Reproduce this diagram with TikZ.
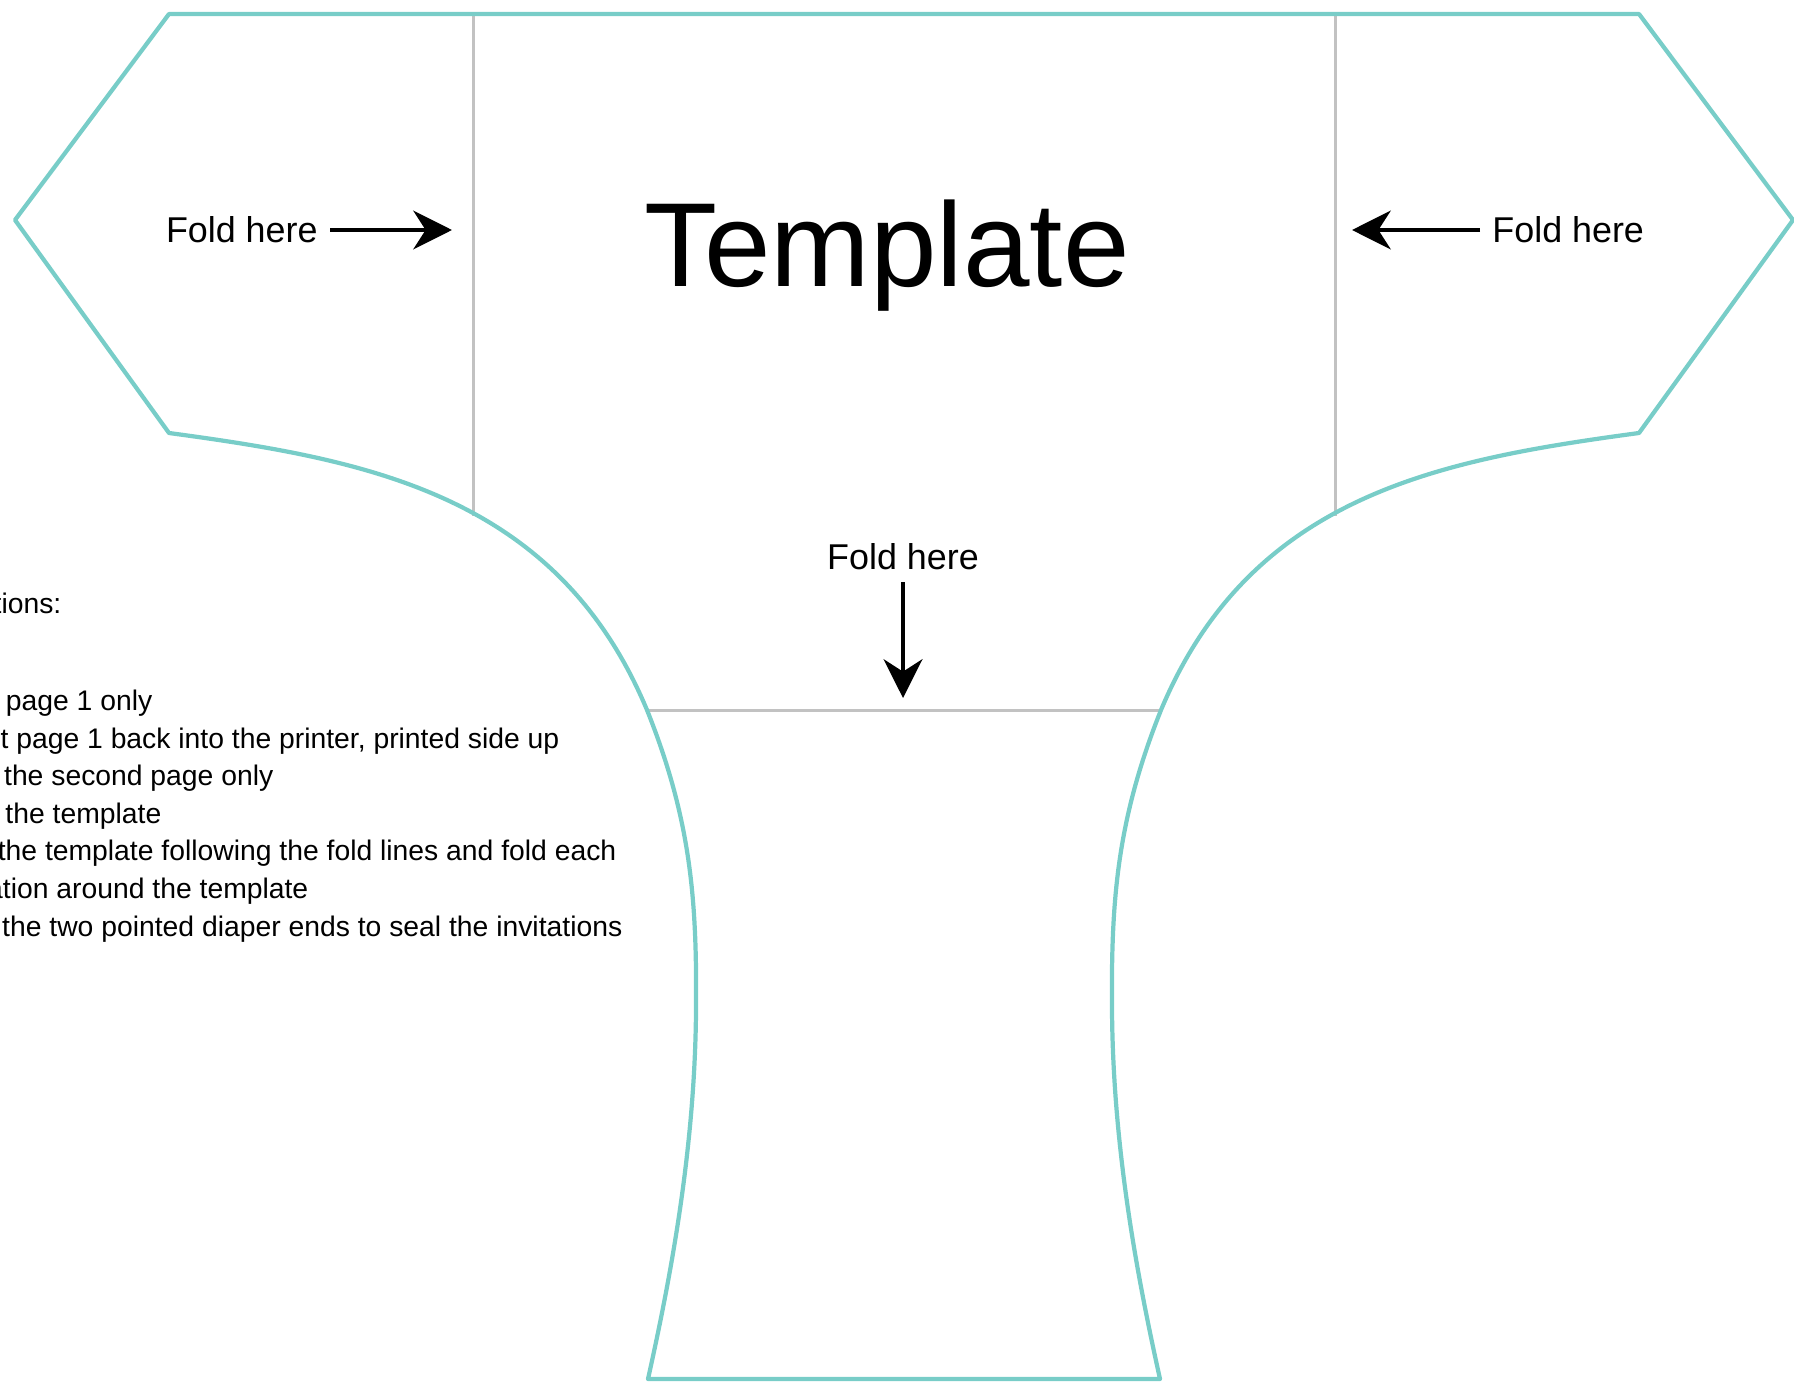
\documentclass[tikz,border=0pt]{standalone}
\usepackage{fontspec}
\setmainfont{Liberation Sans}
\usetikzlibrary{arrows.meta}
\definecolor{cutline}{HTML}{78CDC8}
\definecolor{foldline}{HTML}{C2C2C2}
\begin{document}
\begin{tikzpicture}[x=0.01cm, y=-0.01cm,
    cut/.style={draw=cutline, line width=1.2pt, line join=round},
    crease/.style={draw=foldline, line width=0.85pt},
    pointer/.style={line width=1.3pt, -{Stealth[length=11pt, width=11pt, inset=3.5pt]}},
    foldlabel/.style={font=\fontsize{10.2}{12}\selectfont},
    note/.style={font=\fontsize{8.05}{10}\selectfont, inner sep=0pt, anchor=base east}]
  \useasboundingbox (0,0) rectangle (1794,1382);
  % fold lines
  \draw[crease] (473,14) -- (473,516);
  \draw[crease] (1335,14) -- (1335,516);
  \draw[crease] (647,710) -- (1161,710);
  % outline of the diaper
  \draw[cut] (169,14) -- (1639,14) -- (1793,220) -- (1639,433)
    .. controls (1439,460) and (1251,495) .. (1161,710)
    .. controls (1117,820) and (1111,900) .. (1112,1010)
    .. controls (1113,1150) and (1138,1280) .. (1160,1379)
    -- (648,1379)
    .. controls (670,1280) and (695,1150) .. (696,1010)
    .. controls (697,900) and (691,820) .. (647,710)
    .. controls (557,495) and (369,460) .. (169,433)
    -- (15,220) -- cycle;
  \node[font=\fontsize{34}{40}\selectfont, anchor=base] (title) at (887,287) {Template};
  % fold labels
  \node[foldlabel, anchor=east] (foldL) at (330,230) {Fold here};
  \node[foldlabel, anchor=west] (foldR) at (1480,230) {Fold here};
  \node[foldlabel, anchor=south] (foldM) at (903,582) {Fold here};
  \coordinate (tipL) at (452,230);
  \coordinate (tipR) at (1352,230);
  \coordinate (tipM) at (903,698);
  \draw[pointer] (foldL) -- (tipL);
  \draw[pointer] (foldR) -- (tipR);
  \draw[pointer] (foldM) -- (tipM);
  % instructions, cut off at the left edge
  \node[note] (head) at (62,613) {tions:};
  \node[note] (line1) at (153,710) {t page 1 only};
  \node[note] (line2) at (560,748) {rt page 1 back into the printer, printed side up};
  \node[note] (line3) at (274,785) {t the second page only};
  \node[note] (line4) at (162,823) {t the template};
  \node[note] (line5) at (617,860) {the template following the fold lines and fold each};
  \node[note] (line6) at (309,898) {ation around the template};
  \node[note] (line7) at (623,936) {e the two pointed diaper ends to seal the invitations};
\end{tikzpicture}
\end{document}
